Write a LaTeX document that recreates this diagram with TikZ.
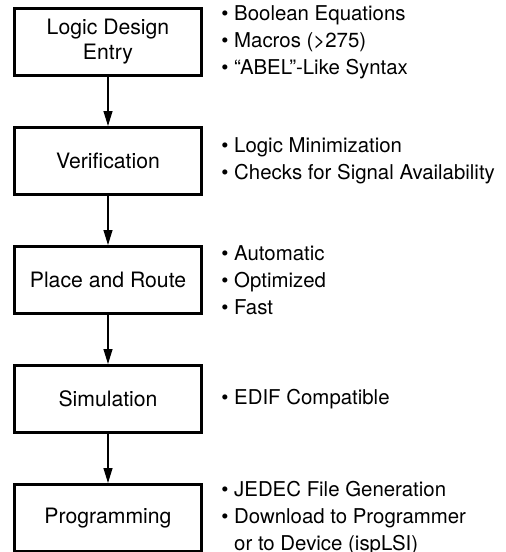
\documentclass[tikz,border=0pt]{standalone}
\usepackage{fontspec}
\setmainfont{TeX Gyre Heros}
\usetikzlibrary{positioning,arrows.meta}
\tikzset{
  every picture/.style={>={Triangle[width=4.5pt,length=7.5pt]}},
  stage/.style={draw, line width=1.3pt, minimum width=93.7pt,
    minimum height=33.7pt, align=center, inner sep=2pt,
    font=\fontsize{10.6}{12.5}\selectfont},
  notes/.style={align=left, inner sep=0pt,
    font=\fontsize{10.2}{13.5}\selectfont}}

\begin{document}
\begin{tikzpicture}[x=0.5pt, y=-0.5pt, node distance=24.5pt]
  \useasboundingbox (0,0) rectangle (505,552);

  \node[stage] (entry) at (108,42) {Logic Design\\Entry};
  \node[stage, below=of entry] (verif) {Verification};
  \node[stage, below=of verif] (route) {Place and Route};
  \node[stage, below=of route] (sim) {Simulation};
  \node[stage, below=of sim] (prog) {Programming};

  \foreach \a/\b in {entry/verif, verif/route, route/sim, sim/prog}
    \draw[->, line width=0.6pt] (\a) -- (\b);

  \node[notes, right=9pt of entry] (entrynotes)
    {\textbullet\ Boolean Equations\\
     \textbullet\ Macros (>275)\\
     \textbullet\ “ABEL”-Like Syntax};
  \node[notes, right=9pt of verif] (verifnotes)
    {\textbullet\ Logic Minimization\\
     \textbullet\ Checks for Signal Availability};
  \node[notes, right=9pt of route] (routenotes)
    {\textbullet\ Automatic\\
     \textbullet\ Optimized\\
     \textbullet\ Fast};
  \node[notes, right=9pt of sim] (simnotes)
    {\textbullet\ EDIF Compatible};
  \node[notes, right=9pt of prog] (prognotes)
    {\textbullet\ JEDEC File Generation\\
     \textbullet\ Download to Programmer\\
     \phantom{\textbullet\ }or to Device (ispLSI)};
\end{tikzpicture}
\end{document}
